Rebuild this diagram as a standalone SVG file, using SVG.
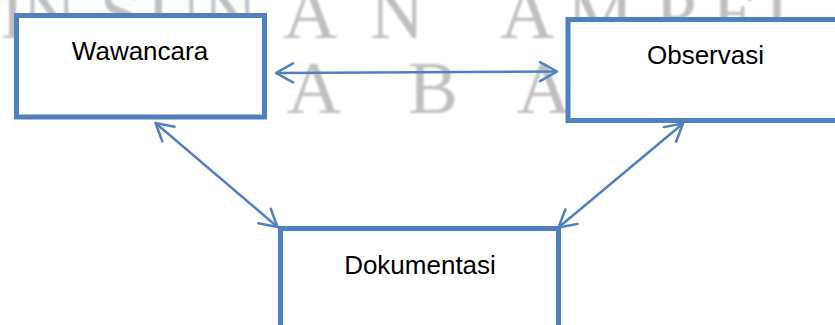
<svg xmlns="http://www.w3.org/2000/svg" width="835" height="325" viewBox="0 0 835 325">
  <style>
    .box { fill: #ffffff; stroke: #4f81bd; stroke-width: 5; }
    .label { font-family: "Liberation Sans", Arial, sans-serif; font-size: 26px; fill: #000000; text-anchor: middle; }
    .conn { stroke: #4f81bd; stroke-width: 2.5; fill: none; marker-start: url(#arr); marker-end: url(#arr); }
    .wm { font-family: "Liberation Serif", "Times New Roman", serif; font-size: 75px; fill: #bfbfbf; }
  </style>
  <defs>
    <marker id="arr" markerUnits="userSpaceOnUse" orient="auto-start-reverse" markerWidth="40" markerHeight="40" refX="0" refY="0" viewBox="-20 -20 40 40" overflow="visible">
      <path d="M-17,-9.5 L0,0 L-17,9.5" fill="none" stroke="#4f81bd" stroke-width="2.5" stroke-linecap="round" stroke-linejoin="round"/>
    </marker>
    <filter id="soft" x="-5%" y="-20%" width="110%" height="140%">
      <feGaussianBlur stdDeviation="1.3"/>
    </filter>
  </defs>
  <rect width="835" height="325" fill="#ffffff"/>
  <g id="watermark" filter="url(#soft)">
    <text class="wm" y="38" x="-62 0 22 50 100 147 203 283 370 440 500 567 655 712 765">UIN SUNAN AMPEL</text>
    <text class="wm" y="113" x="287 408 517">ABA</text>
  </g>
  <g id="node-wawancara">
    <rect class="box" x="16.5" y="15.5" width="248" height="101.5"/>
    <text class="label" x="140" y="60">Wawancara</text>
  </g>
  <g id="node-observasi">
    <rect class="box" x="568" y="19.5" width="275" height="101"/>
    <text class="label" x="705.5" y="64">Observasi</text>
  </g>
  <g id="node-dokumentasi">
    <rect class="box" x="280.5" y="228.5" width="278" height="110"/>
    <text class="label" x="420" y="274">Dokumentasi</text>
  </g>
  <g id="connectors">
    <line class="conn" x1="276" y1="73" x2="557" y2="71.5"/>
    <line class="conn" x1="155.5" y1="123" x2="277.5" y2="227"/>
    <line class="conn" x1="683" y1="123.5" x2="558.5" y2="227.5"/>
  </g>
</svg>
